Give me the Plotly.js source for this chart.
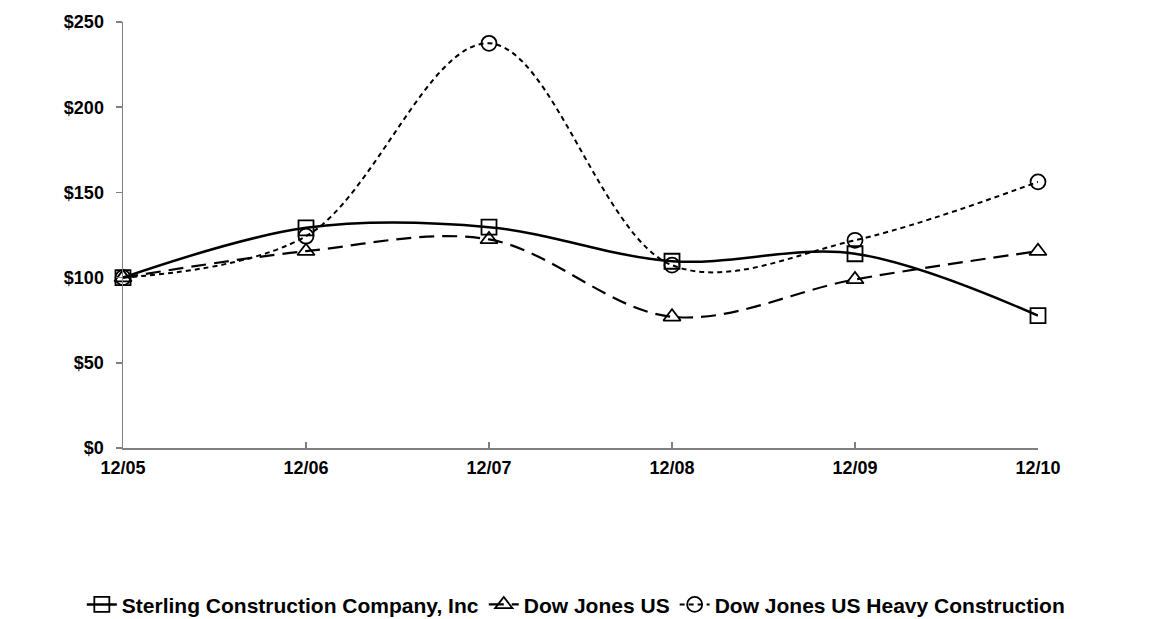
<!DOCTYPE html>
<html><head><meta charset="utf-8">
<script src="https://cdn.plot.ly/plotly-3.0.1.min.js"></script>
<style>html,body{margin:0;padding:0;background:#fff}#chart{width:1151px;height:619px}</style>
</head><body><div id="chart"></div>
<script>
const categories = ["12/05","12/06","12/07","12/08","12/09","12/10"];
const sterling = [100, 129.2, 129.6, 109.6, 114.0, 77.7];
const dowJonesUS = [100, 115.5, 122.4, 77.0, 98.9, 115.5];
const heavyConstruction = [100, 124.3, 237.5, 107.3, 121.9, 156.2];
const seriesNames = ["Sterling Construction Company, Inc", "Dow Jones US", "Dow Jones US Heavy Construction"];
const yTicks = [0, 50, 100, 150, 200, 250];

const fam = "Liberation Sans, Arial, sans-serif";
function tr(y, name, dash, width, sym) {
  return {x: categories, y: y, name: name, type: "scatter", mode: "lines+markers", cliponaxis: false,
    line: {color: "#000", width: width, dash: dash, shape: "spline", smoothing: 1},
    marker: {symbol: sym, size: 15, color: "#000", line: {color: "#000", width: 1.8}}};
}
const data = [
  tr(sterling, seriesNames[0], "solid", 2.5, "square-open"),
  tr(dowJonesUS, seriesNames[1], "15px,8px", 2.2, "triangle-up-open"),
  tr(heavyConstruction, seriesNames[2], "5px,4px", 2, "circle-open")
];
const tf = {family: fam, size: 18, color: "#000", weight: 700};
const layout = {
  width: 1151, height: 619,
  margin: {l: 123, r: 113, t: 22, b: 171, autoexpand: false},
  paper_bgcolor: "#fff", plot_bgcolor: "#fff",
  font: {family: fam, size: 17, color: "#000"},
  showlegend: true,
  legend: {orientation: "h", x: -0.045, xanchor: "left", y: -0.368, yanchor: "middle",
    font: {family: fam, size: 21, color: "#000", weight: 700}, itemwidth: 30, tracegroupgap: 0},
  xaxis: {type: "category", range: [0, 5], showgrid: false, zeroline: false, automargin: false,
    showline: true, linecolor: "#808080", linewidth: 1.5,
    ticks: "inside", ticklen: 6, tickcolor: "#808080", tickwidth: 1.5,
    ticklabelstandoff: 3, tickfont: tf},
  yaxis: {range: [0, 250], tickvals: yTicks, ticktext: yTicks.map(v => "$" + v), automargin: false,
    showgrid: false, zeroline: false, showline: true, linecolor: "#808080", linewidth: 1.5,
    ticks: "outside", ticklen: 6, tickcolor: "#808080", tickwidth: 1.5,
    ticklabelstandoff: 8, tickfont: tf}
};
Plotly.newPlot("chart", data, layout, {displayModeBar: false, staticPlot: true});
</script></body></html>
